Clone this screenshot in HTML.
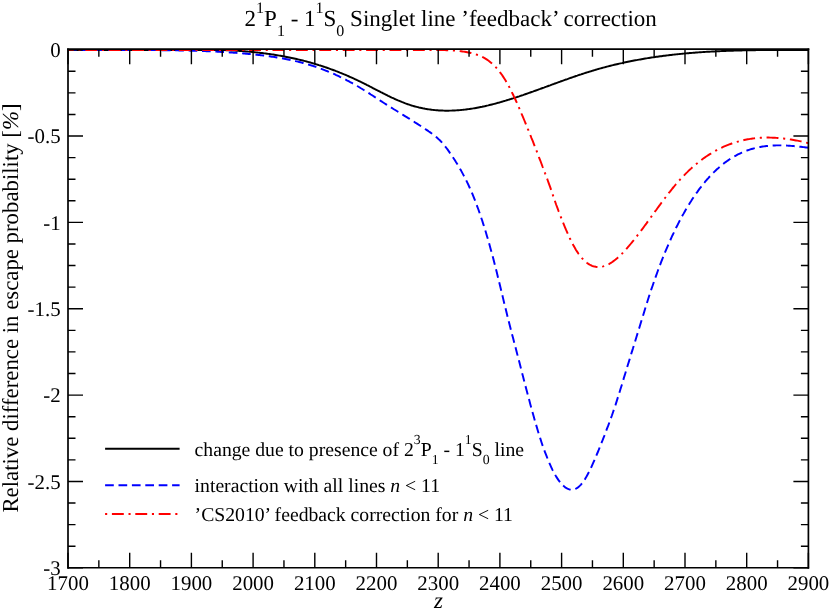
<!DOCTYPE html>
<html><head><meta charset="utf-8"><title>chart</title>
<style>
html,body{margin:0;padding:0;background:#fff;}
svg{display:block;will-change:transform;}
text{text-rendering:geometricPrecision;}
text{font-family:"Liberation Serif",serif;fill:#000;}
.tl text{font-size:20.9px;}
.sup{font-size:14px;}
</style></head><body>
<svg width="830" height="611" viewBox="0 0 830 611">
<rect width="830" height="611" fill="#fff"/>
<g fill="none" stroke-width="1.95" stroke-linejoin="round">
<path d="M68.0,50.00 L69.2,50.00 L70.5,50.00 L71.7,50.00 L72.9,50.00 L74.2,50.00 L75.4,50.00 L76.7,50.00 L77.9,50.00 L79.1,50.00 L80.4,50.00 L81.6,50.00 L82.8,50.00 L84.1,50.00 L85.3,50.00 L86.5,50.00 L87.8,50.00 L89.0,50.00 L90.2,50.00 L91.5,50.00 L92.7,50.00 L94.0,50.00 L95.2,50.00 L96.4,50.00 L97.7,50.00 L98.9,50.00 L100.1,50.00 L101.4,50.00 L102.6,50.00 L103.8,50.00 L105.1,50.00 L106.3,50.01 L107.6,50.01 L108.8,50.01 L110.0,50.02 L111.3,50.02 L112.5,50.03 L113.7,50.03 L115.0,50.03 L116.2,50.03 L117.4,50.04 L118.7,50.04 L119.9,50.04 L121.2,50.04 L122.4,50.04 L123.6,50.04 L124.9,50.04 L126.1,50.04 L127.3,50.04 L128.6,50.04 L129.8,50.04 L131.0,50.04 L132.3,50.04 L133.5,50.03 L134.7,50.03 L136.0,50.02 L137.2,50.02 L138.5,50.01 L139.7,50.00 L140.9,50.00 L142.2,50.00 L143.4,50.00 L144.6,50.00 L145.9,50.00 L147.1,50.00 L148.3,50.00 L149.6,50.00 L150.8,50.00 L152.1,50.00 L153.3,50.00 L154.5,50.00 L155.8,50.00 L157.0,50.00 L158.2,50.00 L159.5,50.00 L160.7,50.00 L161.9,50.00 L163.2,50.00 L164.4,50.00 L165.6,50.00 L166.9,50.00 L168.1,50.00 L169.4,50.00 L170.6,50.00 L171.8,50.00 L173.1,50.00 L174.3,50.00 L175.5,50.00 L176.8,50.00 L178.0,50.00 L179.2,50.00 L180.5,50.00 L181.7,50.00 L183.0,50.00 L184.2,50.00 L185.4,50.00 L186.7,50.00 L187.9,50.00 L189.1,50.00 L190.4,50.00 L191.6,50.00 L192.8,50.00 L194.1,50.00 L195.3,50.00 L196.6,50.00 L197.8,50.00 L199.0,50.00 L200.3,50.00 L201.5,50.00 L202.7,50.00 L204.0,50.00 L205.2,50.00 L206.4,50.00 L207.7,50.00 L208.9,50.00 L210.1,50.00 L211.4,50.00 L212.6,50.00 L213.9,50.00 L215.1,50.00 L216.3,50.00 L217.6,50.00 L218.8,50.00 L220.0,50.00 L221.3,50.01 L222.5,50.05 L223.7,50.10 L225.0,50.15 L226.2,50.20 L227.5,50.26 L228.7,50.32 L229.9,50.38 L231.2,50.44 L232.4,50.51 L233.6,50.57 L234.9,50.65 L236.1,50.72 L237.3,50.80 L238.6,50.88 L239.8,50.96 L241.0,51.05 L242.3,51.14 L243.5,51.24 L244.8,51.33 L246.0,51.43 L247.2,51.54 L248.5,51.64 L249.7,51.76 L250.9,51.87 L252.2,51.99 L253.4,52.11 L254.6,52.23 L255.9,52.36 L257.1,52.50 L258.4,52.63 L259.6,52.77 L260.8,52.92 L262.1,53.07 L263.3,53.22 L264.5,53.38 L265.8,53.54 L267.0,53.70 L268.2,53.87 L269.5,54.05 L270.7,54.22 L271.9,54.41 L273.2,54.59 L274.4,54.78 L275.7,54.98 L276.9,55.18 L278.1,55.39 L279.4,55.60 L280.6,55.81 L281.8,56.03 L283.1,56.25 L284.3,56.48 L285.5,56.72 L286.8,56.96 L288.0,57.20 L289.3,57.45 L290.5,57.70 L291.7,57.96 L293.0,58.23 L294.2,58.50 L295.4,58.77 L296.7,59.06 L297.9,59.34 L299.1,59.63 L300.4,59.93 L301.6,60.23 L302.9,60.54 L304.1,60.86 L305.3,61.18 L306.6,61.50 L307.8,61.84 L309.0,62.17 L310.3,62.52 L311.5,62.87 L312.7,63.22 L314.0,63.58 L315.2,63.95 L316.4,64.32 L317.7,64.70 L318.9,65.09 L320.2,65.48 L321.4,65.88 L322.6,66.29 L323.9,66.70 L325.1,67.12 L326.3,67.54 L327.6,67.97 L328.8,68.41 L330.0,68.85 L331.3,69.30 L332.5,69.75 L333.8,70.21 L335.0,70.68 L336.2,71.16 L337.5,71.64 L338.7,72.12 L339.9,72.62 L341.2,73.12 L342.4,73.62 L343.6,74.14 L344.9,74.65 L346.1,75.18 L347.3,75.71 L348.6,76.25 L349.8,76.79 L351.1,77.35 L352.3,77.90 L353.5,78.47 L354.8,79.04 L356.0,79.62 L357.2,80.20 L358.5,80.79 L359.7,81.39 L360.9,81.99 L362.2,82.60 L363.4,83.22 L364.7,83.84 L365.9,84.46 L367.1,85.09 L368.4,85.72 L369.6,86.36 L370.8,86.99 L372.1,87.63 L373.3,88.27 L374.5,88.91 L375.8,89.55 L377.0,90.19 L378.3,90.83 L379.5,91.46 L380.7,92.10 L382.0,92.73 L383.2,93.35 L384.4,93.98 L385.7,94.59 L386.9,95.21 L388.1,95.81 L389.4,96.41 L390.6,97.01 L391.8,97.59 L393.1,98.17 L394.3,98.74 L395.6,99.30 L396.8,99.85 L398.0,100.39 L399.3,100.92 L400.5,101.43 L401.7,101.94 L403.0,102.43 L404.2,102.91 L405.4,103.37 L406.7,103.82 L407.9,104.26 L409.2,104.67 L410.4,105.08 L411.6,105.47 L412.9,105.84 L414.1,106.20 L415.3,106.54 L416.6,106.87 L417.8,107.18 L419.0,107.48 L420.3,107.77 L421.5,108.04 L422.7,108.30 L424.0,108.54 L425.2,108.77 L426.5,108.98 L427.7,109.18 L428.9,109.37 L430.2,109.55 L431.4,109.71 L432.6,109.86 L433.9,109.99 L435.1,110.12 L436.3,110.23 L437.6,110.32 L438.8,110.41 L440.1,110.48 L441.3,110.54 L442.5,110.59 L443.8,110.63 L445.0,110.66 L446.2,110.67 L447.5,110.68 L448.7,110.67 L449.9,110.65 L451.2,110.62 L452.4,110.58 L453.7,110.53 L454.9,110.47 L456.1,110.40 L457.4,110.32 L458.6,110.22 L459.8,110.12 L461.1,110.01 L462.3,109.89 L463.5,109.76 L464.8,109.62 L466.0,109.47 L467.2,109.31 L468.5,109.14 L469.7,108.97 L471.0,108.78 L472.2,108.59 L473.4,108.39 L474.7,108.18 L475.9,107.96 L477.1,107.74 L478.4,107.50 L479.6,107.26 L480.8,107.01 L482.1,106.76 L483.3,106.49 L484.6,106.22 L485.8,105.94 L487.0,105.66 L488.3,105.37 L489.5,105.07 L490.7,104.77 L492.0,104.45 L493.2,104.14 L494.4,103.82 L495.7,103.49 L496.9,103.15 L498.1,102.81 L499.4,102.47 L500.6,102.12 L501.9,101.76 L503.1,101.40 L504.3,101.04 L505.6,100.67 L506.8,100.29 L508.0,99.91 L509.3,99.53 L510.5,99.14 L511.7,98.75 L513.0,98.35 L514.2,97.95 L515.5,97.55 L516.7,97.14 L517.9,96.73 L519.2,96.32 L520.4,95.90 L521.6,95.48 L522.9,95.06 L524.1,94.64 L525.3,94.21 L526.6,93.78 L527.8,93.35 L529.1,92.91 L530.3,92.48 L531.5,92.04 L532.8,91.60 L534.0,91.15 L535.2,90.71 L536.5,90.27 L537.7,89.82 L538.9,89.37 L540.2,88.92 L541.4,88.47 L542.6,88.02 L543.9,87.57 L545.1,87.12 L546.4,86.67 L547.6,86.22 L548.8,85.76 L550.1,85.31 L551.3,84.86 L552.5,84.41 L553.8,83.96 L555.0,83.50 L556.2,83.05 L557.5,82.60 L558.7,82.16 L560.0,81.71 L561.2,81.26 L562.4,80.82 L563.7,80.37 L564.9,79.93 L566.1,79.49 L567.4,79.05 L568.6,78.61 L569.8,78.18 L571.1,77.74 L572.3,77.31 L573.5,76.89 L574.8,76.46 L576.0,76.04 L577.3,75.62 L578.5,75.20 L579.7,74.79 L581.0,74.38 L582.2,73.97 L583.4,73.56 L584.7,73.16 L585.9,72.77 L587.1,72.37 L588.4,71.99 L589.6,71.60 L590.9,71.22 L592.1,70.84 L593.3,70.47 L594.6,70.10 L595.8,69.74 L597.0,69.38 L598.3,69.03 L599.5,68.68 L600.7,68.34 L602.0,67.99 L603.2,67.66 L604.5,67.33 L605.7,67.00 L606.9,66.67 L608.2,66.35 L609.4,66.04 L610.6,65.73 L611.9,65.42 L613.1,65.12 L614.3,64.82 L615.6,64.52 L616.8,64.23 L618.0,63.94 L619.3,63.66 L620.5,63.38 L621.8,63.11 L623.0,62.83 L624.2,62.57 L625.5,62.30 L626.7,62.04 L627.9,61.78 L629.2,61.53 L630.4,61.28 L631.6,61.04 L632.9,60.79 L634.1,60.56 L635.4,60.32 L636.6,60.09 L637.8,59.86 L639.1,59.64 L640.3,59.42 L641.5,59.20 L642.8,58.98 L644.0,58.77 L645.2,58.57 L646.5,58.36 L647.7,58.16 L648.9,57.96 L650.2,57.77 L651.4,57.58 L652.7,57.39 L653.9,57.20 L655.1,57.02 L656.4,56.84 L657.6,56.67 L658.8,56.49 L660.1,56.32 L661.3,56.16 L662.5,55.99 L663.8,55.83 L665.0,55.67 L666.3,55.52 L667.5,55.36 L668.7,55.21 L670.0,55.07 L671.2,54.92 L672.4,54.78 L673.7,54.64 L674.9,54.51 L676.1,54.37 L677.4,54.24 L678.6,54.11 L679.8,53.99 L681.1,53.87 L682.3,53.74 L683.6,53.63 L684.8,53.51 L686.0,53.40 L687.3,53.29 L688.5,53.18 L689.7,53.07 L691.0,52.97 L692.2,52.87 L693.4,52.77 L694.7,52.67 L695.9,52.58 L697.2,52.49 L698.4,52.39 L699.6,52.31 L700.9,52.22 L702.1,52.14 L703.3,52.06 L704.6,51.98 L705.8,51.90 L707.0,51.82 L708.3,51.75 L709.5,51.68 L710.8,51.61 L712.0,51.54 L713.2,51.48 L714.5,51.41 L715.7,51.35 L716.9,51.29 L718.2,51.23 L719.4,51.17 L720.6,51.12 L721.9,51.06 L723.1,51.01 L724.3,50.96 L725.6,50.91 L726.8,50.87 L728.1,50.82 L729.3,50.78 L730.5,50.74 L731.8,50.70 L733.0,50.66 L734.2,50.62 L735.5,50.58 L736.7,50.55 L737.9,50.51 L739.2,50.48 L740.4,50.45 L741.7,50.42 L742.9,50.39 L744.1,50.36 L745.4,50.34 L746.6,50.31 L747.8,50.29 L749.1,50.27 L750.3,50.25 L751.5,50.23 L752.8,50.21 L754.0,50.19 L755.2,50.17 L756.5,50.15 L757.7,50.14 L759.0,50.13 L760.2,50.11 L761.4,50.10 L762.7,50.09 L763.9,50.08 L765.1,50.07 L766.4,50.06 L767.6,50.05 L768.8,50.04 L770.1,50.03 L771.3,50.03 L772.6,50.02 L773.8,50.02 L775.0,50.01 L776.3,50.01 L777.5,50.00 L778.7,50.00 L780.0,50.00 L781.2,50.00 L782.4,50.00 L783.7,50.00 L784.9,50.00 L786.2,50.00 L787.4,50.00 L788.6,50.00 L789.9,50.00 L791.1,50.00 L792.3,50.00 L793.6,50.00 L794.8,50.00 L796.0,50.00 L797.3,50.00 L798.5,50.00 L799.7,50.00 L801.0,50.00 L802.2,50.00 L803.5,50.00 L804.7,50.00 L805.9,50.00 L807.2,50.00 L808.4,50.00" stroke="#000"/>
<path d="M68.0,50.00 L69.2,50.00 L70.5,50.00 L71.7,50.00 L72.9,50.00 L74.2,50.00 L75.4,50.00 L76.7,50.00 L77.9,50.00 L79.1,50.00 L80.4,50.00 L81.6,50.00 L82.8,50.00 L84.1,50.00 L85.3,50.01 L86.5,50.01 L87.8,50.01 L89.0,50.01 L90.2,50.00 L91.5,50.00 L92.7,50.00 L94.0,50.00 L95.2,50.00 L96.4,50.00 L97.7,50.00 L98.9,50.00 L100.1,50.00 L101.4,50.00 L102.6,50.00 L103.8,50.00 L105.1,50.00 L106.3,50.00 L107.6,50.00 L108.8,50.00 L110.0,50.00 L111.3,50.00 L112.5,50.00 L113.7,50.00 L115.0,50.00 L116.2,50.00 L117.4,50.00 L118.7,50.00 L119.9,50.00 L121.2,50.00 L122.4,50.00 L123.6,50.00 L124.9,50.00 L126.1,50.00 L127.3,50.00 L128.6,50.00 L129.8,50.00 L131.0,50.00 L132.3,50.00 L133.5,50.00 L134.7,50.00 L136.0,50.01 L137.2,50.01 L138.5,50.01 L139.7,50.02 L140.9,50.02 L142.2,50.03 L143.4,50.03 L144.6,50.04 L145.9,50.05 L147.1,50.05 L148.3,50.06 L149.6,50.07 L150.8,50.08 L152.1,50.09 L153.3,50.09 L154.5,50.10 L155.8,50.11 L157.0,50.13 L158.2,50.14 L159.5,50.15 L160.7,50.16 L161.9,50.17 L163.2,50.19 L164.4,50.20 L165.6,50.22 L166.9,50.23 L168.1,50.25 L169.4,50.27 L170.6,50.28 L171.8,50.30 L173.1,50.32 L174.3,50.34 L175.5,50.36 L176.8,50.38 L178.0,50.40 L179.2,50.43 L180.5,50.45 L181.7,50.47 L183.0,50.50 L184.2,50.53 L185.4,50.55 L186.7,50.58 L187.9,50.61 L189.1,50.64 L190.4,50.67 L191.6,50.71 L192.8,50.74 L194.1,50.78 L195.3,50.81 L196.6,50.85 L197.8,50.89 L199.0,50.93 L200.3,50.97 L201.5,51.01 L202.7,51.06 L204.0,51.10 L205.2,51.15 L206.4,51.20 L207.7,51.25 L208.9,51.30 L210.1,51.35 L211.4,51.41 L212.6,51.46 L213.9,51.52 L215.1,51.58 L216.3,51.64 L217.6,51.71 L218.8,51.77 L220.0,51.84 L221.3,51.91 L222.5,51.98 L223.7,52.05 L225.0,52.12 L226.2,52.20 L227.5,52.28 L228.7,52.36 L229.9,52.44 L231.2,52.52 L232.4,52.61 L233.6,52.70 L234.9,52.79 L236.1,52.88 L237.3,52.97 L238.6,53.07 L239.8,53.17 L241.0,53.27 L242.3,53.37 L243.5,53.48 L244.8,53.59 L246.0,53.70 L247.2,53.81 L248.5,53.93 L249.7,54.04 L250.9,54.16 L252.2,54.29 L253.4,54.41 L254.6,54.54 L255.9,54.67 L257.1,54.81 L258.4,54.94 L259.6,55.08 L260.8,55.23 L262.1,55.37 L263.3,55.52 L264.5,55.68 L265.8,55.83 L267.0,55.99 L268.2,56.16 L269.5,56.33 L270.7,56.50 L271.9,56.68 L273.2,56.87 L274.4,57.05 L275.7,57.25 L276.9,57.44 L278.1,57.65 L279.4,57.85 L280.6,58.07 L281.8,58.28 L283.1,58.51 L284.3,58.74 L285.5,58.97 L286.8,59.21 L288.0,59.46 L289.3,59.71 L290.5,59.97 L291.7,60.24 L293.0,60.51 L294.2,60.79 L295.4,61.08 L296.7,61.37 L297.9,61.67 L299.1,61.98 L300.4,62.29 L301.6,62.61 L302.9,62.94 L304.1,63.28 L305.3,63.62 L306.6,63.98 L307.8,64.34 L309.0,64.71 L310.3,65.08 L311.5,65.47 L312.7,65.86 L314.0,66.27 L315.2,66.68 L316.4,67.10 L317.7,67.53 L318.9,67.96 L320.2,68.41 L321.4,68.87 L322.6,69.33 L323.9,69.81 L325.1,70.29 L326.3,70.78 L327.6,71.28 L328.8,71.79 L330.0,72.31 L331.3,72.84 L332.5,73.37 L333.8,73.92 L335.0,74.47 L336.2,75.04 L337.5,75.61 L338.7,76.19 L339.9,76.78 L341.2,77.38 L342.4,77.99 L343.6,78.61 L344.9,79.24 L346.1,79.87 L347.3,80.52 L348.6,81.17 L349.8,81.84 L351.1,82.51 L352.3,83.19 L353.5,83.88 L354.8,84.58 L356.0,85.29 L357.2,86.01 L358.5,86.74 L359.7,87.48 L360.9,88.23 L362.2,88.98 L363.4,89.74 L364.7,90.52 L365.9,91.29 L367.1,92.08 L368.4,92.86 L369.6,93.66 L370.8,94.46 L372.1,95.26 L373.3,96.06 L374.5,96.86 L375.8,97.67 L377.0,98.47 L378.3,99.28 L379.5,100.08 L380.7,100.89 L382.0,101.69 L383.2,102.48 L384.4,103.28 L385.7,104.07 L386.9,104.85 L388.1,105.63 L389.4,106.41 L390.6,107.19 L391.8,107.96 L393.1,108.73 L394.3,109.50 L395.6,110.26 L396.8,111.03 L398.0,111.79 L399.3,112.56 L400.5,113.32 L401.7,114.08 L403.0,114.85 L404.2,115.61 L405.4,116.38 L406.7,117.14 L407.9,117.91 L409.2,118.68 L410.4,119.45 L411.6,120.23 L412.9,121.00 L414.1,121.78 L415.3,122.57 L416.6,123.35 L417.8,124.15 L419.0,124.94 L420.3,125.74 L421.5,126.55 L422.7,127.36 L424.0,128.17 L425.2,129.00 L426.5,129.83 L427.7,130.66 L428.9,131.50 L430.2,132.36 L431.4,133.24 L432.6,134.15 L433.9,135.09 L435.1,136.07 L436.3,137.10 L437.6,138.18 L438.8,139.33 L440.1,140.53 L441.3,141.82 L442.5,143.18 L443.8,144.62 L445.0,146.14 L446.2,147.73 L447.5,149.38 L448.7,151.09 L449.9,152.86 L451.2,154.67 L452.4,156.53 L453.7,158.43 L454.9,160.35 L456.1,162.32 L457.4,164.32 L458.6,166.37 L459.8,168.47 L461.1,170.62 L462.3,172.84 L463.5,175.13 L464.8,177.49 L466.0,179.92 L467.2,182.44 L468.5,185.05 L469.7,187.76 L471.0,190.56 L472.2,193.46 L473.4,196.47 L474.7,199.57 L475.9,202.77 L477.1,206.07 L478.4,209.48 L479.6,212.98 L480.8,216.59 L482.1,220.30 L483.3,224.11 L484.6,228.03 L485.8,232.04 L487.0,236.16 L488.3,240.38 L489.5,244.71 L490.7,249.14 L492.0,253.67 L493.2,258.31 L494.4,263.05 L495.7,267.90 L496.9,272.85 L498.1,277.88 L499.4,282.97 L500.6,288.09 L501.9,293.23 L503.1,298.37 L504.3,303.47 L505.6,308.55 L506.8,313.57 L508.0,318.55 L509.3,323.46 L510.5,328.30 L511.7,333.08 L513.0,337.82 L514.2,342.53 L515.5,347.25 L516.7,351.98 L517.9,356.74 L519.2,361.52 L520.4,366.31 L521.6,371.10 L522.9,375.89 L524.1,380.67 L525.3,385.43 L526.6,390.17 L527.8,394.87 L529.1,399.53 L530.3,404.13 L531.5,408.68 L532.8,413.17 L534.0,417.58 L535.2,421.91 L536.5,426.14 L537.7,430.27 L538.9,434.28 L540.2,438.17 L541.4,441.94 L542.6,445.57 L543.9,449.08 L545.1,452.46 L546.4,455.70 L547.6,458.81 L548.8,461.79 L550.1,464.62 L551.3,467.31 L552.5,469.87 L553.8,472.27 L555.0,474.53 L556.2,476.64 L557.5,478.60 L558.7,480.41 L560.0,482.06 L561.2,483.56 L562.4,484.90 L563.7,486.08 L564.9,487.09 L566.1,487.94 L567.4,488.63 L568.6,489.14 L569.8,489.49 L571.1,489.66 L572.3,489.66 L573.5,489.48 L574.8,489.13 L576.0,488.59 L577.3,487.87 L578.5,486.97 L579.7,485.88 L581.0,484.60 L582.2,483.13 L583.4,481.48 L584.7,479.63 L585.9,477.61 L587.1,475.43 L588.4,473.10 L589.6,470.65 L590.9,468.08 L592.1,465.41 L593.3,462.66 L594.6,459.83 L595.8,456.94 L597.0,453.99 L598.3,450.99 L599.5,447.94 L600.7,444.85 L602.0,441.73 L603.2,438.57 L604.5,435.39 L605.7,432.18 L606.9,428.94 L608.2,425.67 L609.4,422.35 L610.6,418.97 L611.9,415.52 L613.1,411.99 L614.3,408.37 L615.6,404.66 L616.8,400.85 L618.0,396.96 L619.3,393.01 L620.5,389.00 L621.8,384.96 L623.0,380.90 L624.2,376.83 L625.5,372.77 L626.7,368.72 L627.9,364.68 L629.2,360.64 L630.4,356.62 L631.6,352.60 L632.9,348.59 L634.1,344.58 L635.4,340.57 L636.6,336.57 L637.8,332.56 L639.1,328.55 L640.3,324.53 L641.5,320.52 L642.8,316.49 L644.0,312.47 L645.2,308.46 L646.5,304.49 L647.7,300.55 L648.9,296.68 L650.2,292.87 L651.4,289.14 L652.7,285.48 L653.9,281.88 L655.1,278.36 L656.4,274.90 L657.6,271.50 L658.8,268.17 L660.1,264.90 L661.3,261.69 L662.5,258.54 L663.8,255.46 L665.0,252.43 L666.3,249.46 L667.5,246.55 L668.7,243.69 L670.0,240.90 L671.2,238.16 L672.4,235.47 L673.7,232.84 L674.9,230.26 L676.1,227.73 L677.4,225.25 L678.6,222.83 L679.8,220.46 L681.1,218.13 L682.3,215.85 L683.6,213.63 L684.8,211.45 L686.0,209.31 L687.3,207.22 L688.5,205.18 L689.7,203.18 L691.0,201.22 L692.2,199.31 L693.4,197.44 L694.7,195.61 L695.9,193.82 L697.2,192.07 L698.4,190.36 L699.6,188.69 L700.9,187.07 L702.1,185.48 L703.3,183.93 L704.6,182.42 L705.8,180.94 L707.0,179.51 L708.3,178.11 L709.5,176.74 L710.8,175.42 L712.0,174.13 L713.2,172.87 L714.5,171.65 L715.7,170.46 L716.9,169.31 L718.2,168.19 L719.4,167.10 L720.6,166.05 L721.9,165.03 L723.1,164.04 L724.3,163.08 L725.6,162.15 L726.8,161.26 L728.1,160.39 L729.3,159.55 L730.5,158.74 L731.8,157.96 L733.0,157.21 L734.2,156.49 L735.5,155.79 L736.7,155.13 L737.9,154.48 L739.2,153.87 L740.4,153.28 L741.7,152.71 L742.9,152.17 L744.1,151.66 L745.4,151.17 L746.6,150.70 L747.8,150.25 L749.1,149.83 L750.3,149.43 L751.5,149.05 L752.8,148.69 L754.0,148.36 L755.2,148.04 L756.5,147.75 L757.7,147.47 L759.0,147.22 L760.2,146.98 L761.4,146.76 L762.7,146.56 L763.9,146.37 L765.1,146.21 L766.4,146.06 L767.6,145.92 L768.8,145.80 L770.1,145.70 L771.3,145.61 L772.6,145.54 L773.8,145.48 L775.0,145.43 L776.3,145.40 L777.5,145.38 L778.7,145.37 L780.0,145.37 L781.2,145.39 L782.4,145.42 L783.7,145.45 L784.9,145.50 L786.2,145.56 L787.4,145.62 L788.6,145.70 L789.9,145.78 L791.1,145.87 L792.3,145.97 L793.6,146.07 L794.8,146.19 L796.0,146.30 L797.3,146.43 L798.5,146.56 L799.7,146.69 L801.0,146.83 L802.2,146.97 L803.5,147.12 L804.7,147.27 L805.9,147.42 L807.2,147.58 L808.4,147.73" stroke="#0000ff" stroke-dasharray="8.7 4.7"/>
<path d="M68.0,50.00 L69.2,50.00 L70.5,50.00 L71.7,50.00 L72.9,50.00 L74.2,50.00 L75.4,50.00 L76.7,50.00 L77.9,50.00 L79.1,50.00 L80.4,50.00 L81.6,50.00 L82.8,50.00 L84.1,50.00 L85.3,50.00 L86.5,50.00 L87.8,50.00 L89.0,50.00 L90.2,50.00 L91.5,50.00 L92.7,50.00 L94.0,50.00 L95.2,50.00 L96.4,50.00 L97.7,50.00 L98.9,50.00 L100.1,50.00 L101.4,50.00 L102.6,50.00 L103.8,50.00 L105.1,50.00 L106.3,50.00 L107.6,50.00 L108.8,50.00 L110.0,50.00 L111.3,50.00 L112.5,50.00 L113.7,50.00 L115.0,50.00 L116.2,50.00 L117.4,50.00 L118.7,50.00 L119.9,50.00 L121.2,50.00 L122.4,50.00 L123.6,50.00 L124.9,50.00 L126.1,50.00 L127.3,50.00 L128.6,50.00 L129.8,50.00 L131.0,50.00 L132.3,50.00 L133.5,50.00 L134.7,50.00 L136.0,50.00 L137.2,50.00 L138.5,50.00 L139.7,50.00 L140.9,50.00 L142.2,50.00 L143.4,50.00 L144.6,50.00 L145.9,50.00 L147.1,50.00 L148.3,50.00 L149.6,50.00 L150.8,50.00 L152.1,50.00 L153.3,50.00 L154.5,50.00 L155.8,50.00 L157.0,50.00 L158.2,50.00 L159.5,50.00 L160.7,50.00 L161.9,50.00 L163.2,50.00 L164.4,50.00 L165.6,50.00 L166.9,50.00 L168.1,50.00 L169.4,50.00 L170.6,50.00 L171.8,50.00 L173.1,50.00 L174.3,50.00 L175.5,50.00 L176.8,50.00 L178.0,50.00 L179.2,50.00 L180.5,50.00 L181.7,50.00 L183.0,50.00 L184.2,50.00 L185.4,50.00 L186.7,50.00 L187.9,50.00 L189.1,50.00 L190.4,50.00 L191.6,50.00 L192.8,50.00 L194.1,50.00 L195.3,50.00 L196.6,50.00 L197.8,50.00 L199.0,50.00 L200.3,50.00 L201.5,50.00 L202.7,50.00 L204.0,50.00 L205.2,50.00 L206.4,50.00 L207.7,50.00 L208.9,50.00 L210.1,50.00 L211.4,50.00 L212.6,50.00 L213.9,50.00 L215.1,50.00 L216.3,50.00 L217.6,50.00 L218.8,50.00 L220.0,50.00 L221.3,50.00 L222.5,50.00 L223.7,50.00 L225.0,50.00 L226.2,50.00 L227.5,50.00 L228.7,50.00 L229.9,50.00 L231.2,50.00 L232.4,50.00 L233.6,50.00 L234.9,50.00 L236.1,50.00 L237.3,50.00 L238.6,50.00 L239.8,50.00 L241.0,50.00 L242.3,50.00 L243.5,50.00 L244.8,50.00 L246.0,50.00 L247.2,50.00 L248.5,50.00 L249.7,50.00 L250.9,50.00 L252.2,50.00 L253.4,50.00 L254.6,50.00 L255.9,50.00 L257.1,50.00 L258.4,50.00 L259.6,50.00 L260.8,50.00 L262.1,50.00 L263.3,50.00 L264.5,50.00 L265.8,50.00 L267.0,50.00 L268.2,50.00 L269.5,50.00 L270.7,50.00 L271.9,50.00 L273.2,50.00 L274.4,50.00 L275.7,50.00 L276.9,50.00 L278.1,50.00 L279.4,50.00 L280.6,50.00 L281.8,50.00 L283.1,50.00 L284.3,50.00 L285.5,50.00 L286.8,50.00 L288.0,50.00 L289.3,50.00 L290.5,50.00 L291.7,50.00 L293.0,50.00 L294.2,50.00 L295.4,50.00 L296.7,50.00 L297.9,50.00 L299.1,50.00 L300.4,50.00 L301.6,50.00 L302.9,50.00 L304.1,50.00 L305.3,50.00 L306.6,50.00 L307.8,50.00 L309.0,50.00 L310.3,50.00 L311.5,50.00 L312.7,50.00 L314.0,50.00 L315.2,50.00 L316.4,50.00 L317.7,50.00 L318.9,50.00 L320.2,50.00 L321.4,50.00 L322.6,50.00 L323.9,50.00 L325.1,50.00 L326.3,50.00 L327.6,50.00 L328.8,50.00 L330.0,50.00 L331.3,50.00 L332.5,50.00 L333.8,50.00 L335.0,50.00 L336.2,50.00 L337.5,50.00 L338.7,50.00 L339.9,50.00 L341.2,50.00 L342.4,50.00 L343.6,50.00 L344.9,50.00 L346.1,50.00 L347.3,50.00 L348.6,50.00 L349.8,50.00 L351.1,50.00 L352.3,50.00 L353.5,50.00 L354.8,50.00 L356.0,50.00 L357.2,50.00 L358.5,50.00 L359.7,50.00 L360.9,50.00 L362.2,50.00 L363.4,50.00 L364.7,50.00 L365.9,50.00 L367.1,50.00 L368.4,50.00 L369.6,50.00 L370.8,50.00 L372.1,50.00 L373.3,50.00 L374.5,50.00 L375.8,50.00 L377.0,50.00 L378.3,50.00 L379.5,50.00 L380.7,50.00 L382.0,50.00 L383.2,50.00 L384.4,50.00 L385.7,50.00 L386.9,50.00 L388.1,50.00 L389.4,50.00 L390.6,50.00 L391.8,50.00 L393.1,50.00 L394.3,50.00 L395.6,50.00 L396.8,50.00 L398.0,50.00 L399.3,50.00 L400.5,50.00 L401.7,50.00 L403.0,50.00 L404.2,50.00 L405.4,50.00 L406.7,50.00 L407.9,50.00 L409.2,50.00 L410.4,50.00 L411.6,50.00 L412.9,50.00 L414.1,50.00 L415.3,50.00 L416.6,50.00 L417.8,50.00 L419.0,50.00 L420.3,50.00 L421.5,50.00 L422.7,50.00 L424.0,50.00 L425.2,50.00 L426.5,50.00 L427.7,50.00 L428.9,50.00 L430.2,50.00 L431.4,50.00 L432.6,50.00 L433.9,50.00 L435.1,50.00 L436.3,50.01 L437.6,50.02 L438.8,50.03 L440.1,50.04 L441.3,50.06 L442.5,50.08 L443.8,50.11 L445.0,50.14 L446.2,50.18 L447.5,50.22 L448.7,50.27 L449.9,50.33 L451.2,50.40 L452.4,50.47 L453.7,50.56 L454.9,50.65 L456.1,50.76 L457.4,50.87 L458.6,51.00 L459.8,51.14 L461.1,51.29 L462.3,51.45 L463.5,51.63 L464.8,51.82 L466.0,52.03 L467.2,52.25 L468.5,52.49 L469.7,52.74 L471.0,53.01 L472.2,53.31 L473.4,53.63 L474.7,53.98 L475.9,54.36 L477.1,54.78 L478.4,55.23 L479.6,55.72 L480.8,56.25 L482.1,56.84 L483.3,57.47 L484.6,58.15 L485.8,58.88 L487.0,59.68 L488.3,60.53 L489.5,61.45 L490.7,62.44 L492.0,63.49 L493.2,64.62 L494.4,65.82 L495.7,67.10 L496.9,68.46 L498.1,69.91 L499.4,71.44 L500.6,73.07 L501.9,74.78 L503.1,76.60 L504.3,78.51 L505.6,80.52 L506.8,82.63 L508.0,84.84 L509.3,87.13 L510.5,89.51 L511.7,91.97 L513.0,94.50 L514.2,97.10 L515.5,99.76 L516.7,102.48 L517.9,105.25 L519.2,108.08 L520.4,110.94 L521.6,113.85 L522.9,116.79 L524.1,119.75 L525.3,122.75 L526.6,125.76 L527.8,128.80 L529.1,131.86 L530.3,134.94 L531.5,138.05 L532.8,141.17 L534.0,144.31 L535.2,147.47 L536.5,150.65 L537.7,153.84 L538.9,157.05 L540.2,160.27 L541.4,163.51 L542.6,166.76 L543.9,170.03 L545.1,173.32 L546.4,176.63 L547.6,179.99 L548.8,183.40 L550.1,186.88 L551.3,190.43 L552.5,194.03 L553.8,197.64 L555.0,201.22 L556.2,204.73 L557.5,208.15 L558.7,211.50 L560.0,214.76 L561.2,217.94 L562.4,221.04 L563.7,224.08 L564.9,227.05 L566.1,229.96 L567.4,232.79 L568.6,235.55 L569.8,238.22 L571.1,240.79 L572.3,243.26 L573.5,245.61 L574.8,247.83 L576.0,249.92 L577.3,251.88 L578.5,253.70 L579.7,255.40 L581.0,256.97 L582.2,258.41 L583.4,259.73 L584.7,260.94 L585.9,262.03 L587.1,263.00 L588.4,263.86 L589.6,264.61 L590.9,265.25 L592.1,265.80 L593.3,266.23 L594.6,266.57 L595.8,266.81 L597.0,266.96 L598.3,267.02 L599.5,266.98 L600.7,266.86 L602.0,266.66 L603.2,266.37 L604.5,266.00 L605.7,265.56 L606.9,265.04 L608.2,264.44 L609.4,263.78 L610.6,263.05 L611.9,262.26 L613.1,261.40 L614.3,260.49 L615.6,259.51 L616.8,258.49 L618.0,257.41 L619.3,256.27 L620.5,255.10 L621.8,253.87 L623.0,252.61 L624.2,251.30 L625.5,249.96 L626.7,248.58 L627.9,247.16 L629.2,245.72 L630.4,244.25 L631.6,242.76 L632.9,241.24 L634.1,239.70 L635.4,238.13 L636.6,236.55 L637.8,234.95 L639.1,233.33 L640.3,231.70 L641.5,230.05 L642.8,228.39 L644.0,226.72 L645.2,225.04 L646.5,223.35 L647.7,221.66 L648.9,219.96 L650.2,218.25 L651.4,216.55 L652.7,214.84 L653.9,213.13 L655.1,211.42 L656.4,209.72 L657.6,208.02 L658.8,206.33 L660.1,204.64 L661.3,202.96 L662.5,201.30 L663.8,199.64 L665.0,198.00 L666.3,196.37 L667.5,194.76 L668.7,193.17 L670.0,191.59 L671.2,190.04 L672.4,188.50 L673.7,186.99 L674.9,185.51 L676.1,184.05 L677.4,182.61 L678.6,181.21 L679.8,179.83 L681.1,178.48 L682.3,177.15 L683.6,175.86 L684.8,174.59 L686.0,173.34 L687.3,172.12 L688.5,170.93 L689.7,169.76 L691.0,168.62 L692.2,167.50 L693.4,166.40 L694.7,165.34 L695.9,164.29 L697.2,163.27 L698.4,162.27 L699.6,161.30 L700.9,160.35 L702.1,159.43 L703.3,158.52 L704.6,157.64 L705.8,156.78 L707.0,155.95 L708.3,155.13 L709.5,154.34 L710.8,153.57 L712.0,152.82 L713.2,152.09 L714.5,151.38 L715.7,150.70 L716.9,150.03 L718.2,149.38 L719.4,148.76 L720.6,148.15 L721.9,147.56 L723.1,146.99 L724.3,146.44 L725.6,145.91 L726.8,145.40 L728.1,144.91 L729.3,144.43 L730.5,143.97 L731.8,143.53 L733.0,143.11 L734.2,142.70 L735.5,142.31 L736.7,141.94 L737.9,141.59 L739.2,141.25 L740.4,140.92 L741.7,140.62 L742.9,140.33 L744.1,140.05 L745.4,139.79 L746.6,139.55 L747.8,139.32 L749.1,139.11 L750.3,138.91 L751.5,138.72 L752.8,138.55 L754.0,138.40 L755.2,138.26 L756.5,138.13 L757.7,138.02 L759.0,137.92 L760.2,137.83 L761.4,137.76 L762.7,137.70 L763.9,137.65 L765.1,137.62 L766.4,137.60 L767.6,137.59 L768.8,137.59 L770.1,137.61 L771.3,137.63 L772.6,137.67 L773.8,137.72 L775.0,137.79 L776.3,137.86 L777.5,137.94 L778.7,138.04 L780.0,138.14 L781.2,138.26 L782.4,138.39 L783.7,138.52 L784.9,138.67 L786.2,138.83 L787.4,139.00 L788.6,139.17 L789.9,139.36 L791.1,139.55 L792.3,139.76 L793.6,139.97 L794.8,140.19 L796.0,140.42 L797.3,140.66 L798.5,140.90 L799.7,141.15 L801.0,141.42 L802.2,141.69 L803.5,141.96 L804.7,142.25 L805.9,142.54 L807.2,142.83 L808.4,143.14" stroke="#ff0000" stroke-dasharray="2.1 4.7 11.9 4.7" stroke-dashoffset="12.9"/>
</g>
<path d="M68.00,49.3 v15 M68.00,567.8 v-15 M98.85,49.3 v7.5 M98.85,567.8 v-7.5 M129.70,49.3 v15 M129.70,567.8 v-15 M160.55,49.3 v7.5 M160.55,567.8 v-7.5 M191.40,49.3 v15 M191.40,567.8 v-15 M222.25,49.3 v7.5 M222.25,567.8 v-7.5 M253.10,49.3 v15 M253.10,567.8 v-15 M283.95,49.3 v7.5 M283.95,567.8 v-7.5 M314.80,49.3 v15 M314.80,567.8 v-15 M345.65,49.3 v7.5 M345.65,567.8 v-7.5 M376.50,49.3 v15 M376.50,567.8 v-15 M407.35,49.3 v7.5 M407.35,567.8 v-7.5 M438.20,49.3 v15 M438.20,567.8 v-15 M469.05,49.3 v7.5 M469.05,567.8 v-7.5 M499.90,49.3 v15 M499.90,567.8 v-15 M530.75,49.3 v7.5 M530.75,567.8 v-7.5 M561.60,49.3 v15 M561.60,567.8 v-15 M592.45,49.3 v7.5 M592.45,567.8 v-7.5 M623.30,49.3 v15 M623.30,567.8 v-15 M654.15,49.3 v7.5 M654.15,567.8 v-7.5 M685.00,49.3 v15 M685.00,567.8 v-15 M715.85,49.3 v7.5 M715.85,567.8 v-7.5 M746.70,49.3 v15 M746.70,567.8 v-15 M777.55,49.3 v7.5 M777.55,567.8 v-7.5 M808.40,49.3 v15 M808.40,567.8 v-15 M68.0,49.70 h15 M808.4,49.70 h-15 M68.0,71.29 h7.5 M808.4,71.29 h-7.5 M68.0,92.88 h7.5 M808.4,92.88 h-7.5 M68.0,114.46 h7.5 M808.4,114.46 h-7.5 M68.0,136.05 h15 M808.4,136.05 h-15 M68.0,157.64 h7.5 M808.4,157.64 h-7.5 M68.0,179.22 h7.5 M808.4,179.22 h-7.5 M68.0,200.81 h7.5 M808.4,200.81 h-7.5 M68.0,222.40 h15 M808.4,222.40 h-15 M68.0,243.99 h7.5 M808.4,243.99 h-7.5 M68.0,265.57 h7.5 M808.4,265.57 h-7.5 M68.0,287.16 h7.5 M808.4,287.16 h-7.5 M68.0,308.75 h15 M808.4,308.75 h-15 M68.0,330.34 h7.5 M808.4,330.34 h-7.5 M68.0,351.92 h7.5 M808.4,351.92 h-7.5 M68.0,373.51 h7.5 M808.4,373.51 h-7.5 M68.0,395.10 h15 M808.4,395.10 h-15 M68.0,416.69 h7.5 M808.4,416.69 h-7.5 M68.0,438.27 h7.5 M808.4,438.27 h-7.5 M68.0,459.86 h7.5 M808.4,459.86 h-7.5 M68.0,481.45 h15 M808.4,481.45 h-15 M68.0,503.04 h7.5 M808.4,503.04 h-7.5 M68.0,524.62 h7.5 M808.4,524.62 h-7.5 M68.0,546.21 h7.5 M808.4,546.21 h-7.5 M68.0,567.80 h15 M808.4,567.80 h-15" stroke="#000" stroke-width="1.4" fill="none"/>
<g stroke="#000" fill="none" stroke-linecap="square">
<path d="M68.0,49.199999999999996 H808.4" stroke-width="1.8"/>
<path d="M68.0,567.8 H808.4" stroke-width="1.4"/>
<path d="M68.0,49.3 V567.8" stroke-width="1.7"/>
<path d="M808.4,49.3 V567.8" stroke-width="1.7"/>
</g>
<g class="tl"><text x="68.0" y="590.1" text-anchor="middle">1700</text><text x="129.7" y="590.1" text-anchor="middle">1800</text><text x="191.4" y="590.1" text-anchor="middle">1900</text><text x="253.1" y="590.1" text-anchor="middle">2000</text><text x="314.8" y="590.1" text-anchor="middle">2100</text><text x="376.5" y="590.1" text-anchor="middle">2200</text><text x="438.2" y="590.1" text-anchor="middle">2300</text><text x="499.9" y="590.1" text-anchor="middle">2400</text><text x="561.6" y="590.1" text-anchor="middle">2500</text><text x="623.3" y="590.1" text-anchor="middle">2600</text><text x="685.0" y="590.1" text-anchor="middle">2700</text><text x="746.7" y="590.1" text-anchor="middle">2800</text><text x="808.4" y="590.1" text-anchor="middle">2900</text><text x="60.6" y="56.9" text-anchor="end">0</text><text x="60.6" y="143.2" text-anchor="end">-0.5</text><text x="60.6" y="229.6" text-anchor="end">-1</text><text x="60.6" y="315.9" text-anchor="end">-1.5</text><text x="60.6" y="402.3" text-anchor="end">-2</text><text x="60.6" y="488.6" text-anchor="end">-2.5</text><text x="60.6" y="575.0" text-anchor="end">-3</text></g>
<text x="244.6" y="26.2" font-size="23px">2<tspan font-size="16px" dy="-13.5">1</tspan><tspan dy="13.5">P</tspan><tspan font-size="16px" dy="9.5">1</tspan><tspan dy="-9.5"> - 1</tspan><tspan font-size="16px" dy="-13.5">1</tspan><tspan dy="13.5">S</tspan><tspan font-size="16px" dy="9.5">0</tspan><tspan dy="-9.5"> Singlet line ’feedback’ correction</tspan></text>
<text x="438.4" y="607.6" font-size="23px" font-style="italic" text-anchor="middle">z</text>
<text transform="translate(17.8,512.6) rotate(-90)" font-size="22.8px">Relative difference in escape probability [<tspan font-style="italic">%</tspan>]</text>
<g stroke-width="2.1" fill="none">
<path d="M105.1,448.8 H179.6" stroke="#000"/>
<path d="M105.1,485.3 H179.6" stroke="#0000ff" stroke-dasharray="8.7 4.7"/>
<path d="M105.1,514 H179.6" stroke="#ff0000" stroke-dasharray="2.1 4.7 11.9 4.7"/>
</g>
<g font-size="19.7px">
<text x="194.6" y="455.8">change due to presence of 2<tspan font-size="13.8px" dy="-11.6">3</tspan><tspan dy="11.6">P</tspan><tspan font-size="13.8px" dy="8.1">1</tspan><tspan dy="-8.1"> - 1</tspan><tspan font-size="13.8px" dy="-11.6">1</tspan><tspan dy="11.6">S</tspan><tspan font-size="13.8px" dy="8.1">0</tspan><tspan dy="-8.1"> line</tspan></text>
<text x="194.6" y="491.8">interaction with all lines <tspan font-style="italic">n</tspan> &lt; 11</text>
<text x="194.6" y="520.7">’CS2010’ feedback correction for <tspan font-style="italic">n</tspan> &lt; 11</text>
</g>
</svg>
</body></html>
